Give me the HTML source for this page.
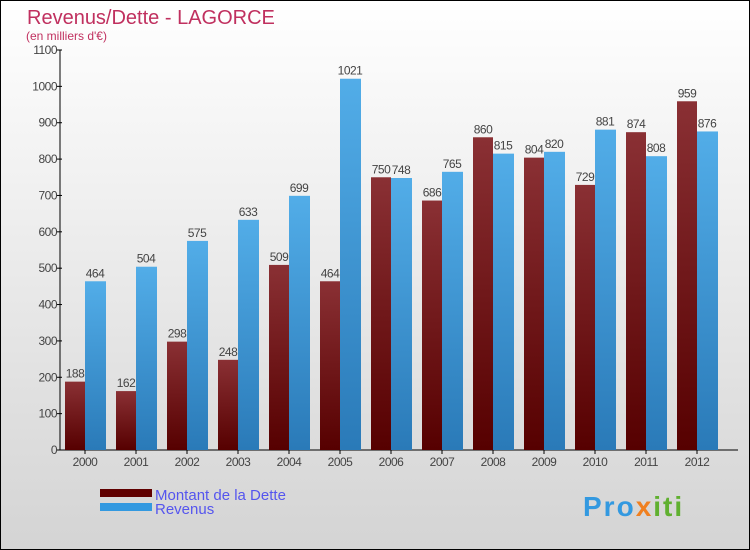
<!DOCTYPE html>
<html><head><meta charset="utf-8"><style>
body{margin:0}
svg{display:block;font-family:"Liberation Sans",sans-serif}
</style></head><body>
<svg id="c" width="750" height="550" xmlns="http://www.w3.org/2000/svg">
<defs>
<linearGradient id="bg" x1="0" y1="0" x2="0" y2="1"><stop offset="0" stop-color="#ffffff"/><stop offset="1" stop-color="#d4d4d4"/></linearGradient>
<linearGradient id="gd" x1="0" y1="0" x2="0" y2="1"><stop offset="0" stop-color="#8a3034"/><stop offset="1" stop-color="#560000"/></linearGradient>
<linearGradient id="gr" x1="0" y1="0" x2="0" y2="1"><stop offset="0" stop-color="#52ade8"/><stop offset="1" stop-color="#2a7ab8"/></linearGradient>
</defs>
<rect x="0.5" y="0.5" width="749" height="549" fill="url(#bg)" stroke="#000"/>
<text x="27" y="24" font-size="20" fill="#c0305f">Revenus/Dette - LAGORCE</text>
<text x="26" y="40" font-size="12" fill="#c0305f">(en milliers d'€)</text>
<g id="plot"></g>
<rect x="100" y="489" width="52" height="8" fill="#600000"/>
<rect x="100" y="503" width="52" height="8" fill="#3399e0"/>
<text x="155" y="500" font-size="15" fill="#5555ee">Montant de la Dette</text>
<text x="155" y="514" font-size="15" fill="#5555ee">Revenus</text>
<text x="583" y="516" font-size="28" font-weight="bold" letter-spacing="2" fill="#3399e0">Pro<tspan fill="#f08020">x</tspan><tspan fill="#60b030">iti</tspan></text>
</svg>
<script>
const years=["2000","2001","2002","2003","2004","2005","2006","2007","2008","2009","2010","2011","2012"];
const dette=[188,162,298,248,509,464,750,686,860,804,729,874,959];
const revenus=[464,504,575,633,699,1021,748,765,815,820,881,808,876];
const ticks=[0,100,200,300,400,500,600,700,800,900,1000,1100];
const NS="http://www.w3.org/2000/svg";
const g=document.getElementById('plot');
const y=v=>450-v*400/1100;
const x=i=>85+i*51;
function mk(t,a){const e=document.createElementNS(NS,t);for(const k in a)e.setAttribute(k,a[k]);g.appendChild(e);return e;}
let ax=mk('line',{x1:60,y1:50,x2:60,y2:450,stroke:'#000'});


let bx=mk('line',{x1:60,y1:450,x2:738,y2:450,stroke:'#000'});


ticks.forEach(t=>{
 let l=mk('line',{x1:57,y1:y(t),x2:62,y2:y(t),stroke:'#000'});
 
 
 let tx=mk('text',{x:57,y:y(t)+4,'font-size':12,'text-anchor':'end',fill:'#444','letter-spacing':'-0.5'});
 tx.textContent=t;
 
 
});
years.forEach((yr,i)=>{
 const cx=x(i);
 let a=mk('rect',{x:cx-20,y:y(dette[i]),width:20,height:450-y(dette[i]),fill:'url(#gd)'});
 
 
 let b=mk('rect',{x:cx,y:y(revenus[i]),width:21,height:450-y(revenus[i]),fill:'url(#gr)'});
 
 
 let t1=mk('text',{x:cx-10,y:y(dette[i])-4,'font-size':12,'text-anchor':'middle',fill:'#444','letter-spacing':'-0.5'});
 t1.textContent=dette[i];
 
 
 let t2=mk('text',{x:cx+10,y:y(revenus[i])-4,'font-size':12,'text-anchor':'middle',fill:'#444','letter-spacing':'-0.5'});
 t2.textContent=revenus[i];
 
 
 let tk=mk('line',{x1:cx,y1:450,x2:cx,y2:454,stroke:'#000'});
 
 
 let xl=mk('text',{x:cx,y:466,'font-size':12,'text-anchor':'middle',fill:'#444','letter-spacing':'-0.5'});
 xl.textContent=yr;
 
 
});
</script>
</body></html>
